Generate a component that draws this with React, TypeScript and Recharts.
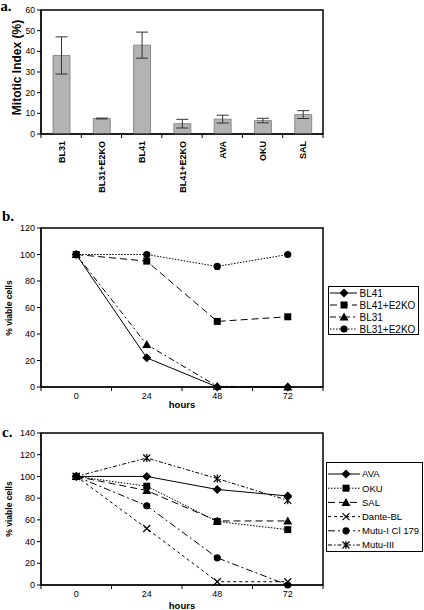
import React from 'react';
import {
  BarChart, Bar, ErrorBar, LineChart, Line, XAxis, YAxis, ReferenceArea, Legend,
} from 'recharts';

const FONT = '"Liberation Sans", Arial, sans-serif';
const SERIF = '"Liberation Serif", "Times New Roman", serif';

// panel a - mitotic index
const cellLines = ['BL31', 'BL31+E2KO', 'BL41', 'BL41+E2KO', 'AVA', 'OKU', 'SAL'];
const mitoticIndex = [38, 7.5, 43, 5, 7.2, 6.5, 9.4];
const mitoticErr = [9, 0.2, 6.3, 2.1, 1.9, 1.1, 1.9];
const mitoticTicks = [0, 10, 20, 30, 40, 50, 60];

// panel b / c - viability over time
const hours = [0, 24, 48, 72];
const hourTicks = [-12, 0, 12, 24, 36, 48, 60, 72, 84];

const bl41 = [100, 22, 0, 0];
const bl41E2ko = [100, 95, 49.5, 53];
const bl31 = [100, 32, 0.5, 0];
const bl31E2ko = [100, 100, 91, 100];
const ticksB = [0, 20, 40, 60, 80, 100, 120];

const ava = [100, 100, 88, 82];
const oku = [100, 91, 58.5, 51];
const sal = [100, 87, 59, 59];
const danteBl = [100, 52, 3, 3];
const mutuI = [100, 73, 25, 0];
const mutuIII = [100, 117, 98, 78];
const ticksC = [0, 20, 40, 60, 80, 100, 120, 140];

type MarkerKind = 'diamond' | 'square' | 'triangle' | 'circle' | 'cross' | 'star';

interface Series {
  key: string;
  name: string;
  values: number[];
  dash?: string;
  marker: MarkerKind;
}

const seriesB: Series[] = [
  { key: 'bl41', name: 'BL41', values: bl41, marker: 'diamond' },
  { key: 'bl41e2ko', name: 'BL41+E2KO', values: bl41E2ko, dash: '7 4', marker: 'square' },
  { key: 'bl31', name: 'BL31', values: bl31, dash: '6 3 2 3', marker: 'triangle' },
  { key: 'bl31e2ko', name: 'BL31+E2KO', values: bl31E2ko, dash: '1.5 1.5', marker: 'circle' },
];

const seriesC: Series[] = [
  { key: 'ava', name: 'AVA', values: ava, marker: 'diamond' },
  { key: 'oku', name: 'OKU', values: oku, dash: '1.5 1.5', marker: 'square' },
  { key: 'sal', name: 'SAL', values: sal, dash: '7 4', marker: 'triangle' },
  { key: 'dante', name: 'Dante-BL', values: danteBl, dash: '3 3', marker: 'cross' },
  { key: 'mutu1', name: 'Mutu-I Cl 179', values: mutuI, dash: '7 3 2 3', marker: 'circle' },
  { key: 'mutu3', name: 'Mutu-III', values: mutuIII, dash: '4 2 1.5 2', marker: 'star' },
];

function Marker({ kind, x, y }: { kind: MarkerKind; x: number; y: number }) {
  switch (kind) {
    case 'diamond':
      return <path d={`M${x},${y - 4.5}L${x + 4.5},${y}L${x},${y + 4.5}L${x - 4.5},${y}Z`} fill="#000" />;
    case 'square':
      return <rect x={x - 3.5} y={y - 3.5} width={7} height={7} fill="#000" />;
    case 'triangle':
      return <path d={`M${x},${y - 4.5}L${x + 4.5},${y + 3.5}L${x - 4.5},${y + 3.5}Z`} fill="#000" />;
    case 'circle':
      return <circle cx={x} cy={y} r={3.6} fill="#000" />;
    case 'cross':
      return (
        <path
          d={`M${x - 3.5},${y - 3.5}L${x + 3.5},${y + 3.5}M${x + 3.5},${y - 3.5}L${x - 3.5},${y + 3.5}`}
          stroke="#000" strokeWidth={1.2} fill="none"
        />
      );
    default:
      return (
        <path
          d={`M${x - 3.5},${y - 3.5}L${x + 3.5},${y + 3.5}M${x + 3.5},${y - 3.5}L${x - 3.5},${y + 3.5}M${x},${y - 4}L${x},${y + 4}`}
          stroke="#000" strokeWidth={1.2} fill="none"
        />
      );
  }
}

const dotFor = (kind: MarkerKind) => (p: any) => (
  <g key={`dot-${kind}-${p.index}`}>
    <Marker kind={kind} x={p.cx} y={p.cy} />
  </g>
);

const HourTick = (p: any) => {
  const v = p.payload.value;
  if (v % 24 !== 0) {
    return <line x1={p.x} x2={p.x} y1={p.y} y2={p.y + 4} stroke="#000" />;
  }
  return (
    <text x={p.x} y={p.y + 11.5} textAnchor="middle" fontSize={9} fontFamily={FONT} fill="#000">{v}</text>
  );
};

const BAND = (424 - 101 - 41) / cellLines.length;

const CellTick = (p: any) => (
  <g>
    <line x1={p.x + BAND / 2} x2={p.x + BAND / 2} y1={p.y} y2={p.y + 4} stroke="#000" />
    {p.index === 0 && <line x1={p.x - BAND / 2} x2={p.x - BAND / 2} y1={p.y} y2={p.y + 4} stroke="#000" />}
    <text
      transform={`translate(${p.x + 3.5},${p.y + 7}) rotate(-90)`}
      textAnchor="end" fontSize={9} fontWeight="bold" fontFamily={FONT} fill="#000"
    >
      {p.payload.value}
    </text>
  </g>
);

function LegendBox({ series, width, height, rowTop, rowH, sampleEnd, markerX, textX, fontSize }: any) {
  return (
    <svg width={width} height={height} style={{ display: 'block' }}>
      <rect x={0.5} y={0.5} width={width - 1} height={height - 1} fill="#fff" stroke="#000" />
      {series.map((s: Series, i: number) => {
        const cy = rowTop + i * rowH;
        return (
          <g key={s.key}>
            <line x1={2} x2={sampleEnd} y1={cy} y2={cy} stroke="#000" strokeDasharray={s.dash} />
            <Marker kind={s.marker} x={markerX} y={cy} />
            <text x={textX} y={cy + fontSize * 0.36} fontSize={fontSize} fontFamily={FONT} fill="#000">{s.name}</text>
          </g>
        );
      })}
    </svg>
  );
}

const tickStyle = (size: number) => ({ fontSize: size, fill: '#000', fontFamily: FONT });

function MitoticChart() {
  const data = cellLines.map((c, i) => ({ name: c, value: mitoticIndex[i], err: mitoticErr[i] }));
  return (
    <BarChart width={424} height={200} data={data} margin={{ top: 10, right: 101, bottom: 0, left: 0 }}>
      <XAxis
        dataKey="name" height={66} interval={0} tickSize={0} tickMargin={0} tickLine={false}
        axisLine={{ stroke: '#000' }} tick={CellTick}
      />
      <YAxis
        width={41} domain={[0, 60]} ticks={mitoticTicks} interval={0} tickSize={4} tickMargin={2}
        axisLine={{ stroke: '#000' }} tickLine={{ stroke: '#000' }} tick={tickStyle(8.5)}
        label={{
          content: () => (
            <text transform="translate(21,67.5) rotate(-90)" textAnchor="middle" fontSize={12}
              fontWeight="bold" fontFamily={FONT} fill="#000">Mitotic Index (%)</text>
          ),
        }}
      />
      <Bar dataKey="value" barSize={17} fill="#b3b3b3" stroke="#7a7a7a" strokeWidth={0.8} isAnimationActive={false}>
        <ErrorBar dataKey="err" width={6} stroke="#333" strokeWidth={1} direction="y" />
      </Bar>
      <ReferenceArea y1={0} y2={60} fill="none" stroke="#000" strokeWidth={1.5} />
    </BarChart>
  );
}

function ViabilityChart({ series, height, top, yMax, yTicks, titleX, titleY, hoursY, legend }: any) {
  const data = hours.map((h, i) => {
    const row: Record<string, number> = { hour: h };
    series.forEach((s: Series) => { row[s.key] = s.values[i]; });
    return row;
  });
  return (
    <LineChart width={424} height={height} data={data} margin={{ top, right: 101, bottom: 0, left: 0 }}>
      <XAxis
        dataKey="hour" type="number" domain={[-12, 84]} ticks={hourTicks} interval={0} height={height - top - (yMax === 120 ? 159 : 152)}
        tickSize={0} tickMargin={0} tickLine={false} axisLine={{ stroke: '#000' }} tick={HourTick}
        label={{
          content: () => (
            <text x={182} y={hoursY} textAnchor="middle" fontSize={9.5} fontWeight="bold"
              fontFamily={FONT} fill="#000">hours</text>
          ),
        }}
      />
      <YAxis
        width={41} domain={[0, yMax]} ticks={yTicks} interval={0} tickSize={4} tickMargin={2}
        axisLine={{ stroke: '#000' }} tickLine={{ stroke: '#000' }} tick={tickStyle(9)}
        label={{
          content: () => (
            <text transform={`translate(${titleX},${titleY}) rotate(-90)`} textAnchor="middle" fontSize={8.5}
              fontWeight="bold" fontFamily={FONT} fill="#000">% viable cells</text>
          ),
        }}
      />
      {series.map((s: Series) => (
        <Line
          key={s.key} dataKey={s.key} name={s.name} stroke="#000" strokeWidth={1}
          strokeDasharray={s.dash} dot={dotFor(s.marker)} activeDot={false} isAnimationActive={false}
        />
      ))}
      <ReferenceArea y1={0} y2={yMax} fill="none" stroke="#000" strokeWidth={1.5} />
      <Legend
        layout="horizontal" align="center" verticalAlign="middle"
        wrapperStyle={{ left: legend.left, top: legend.top, width: legend.width, height: legend.height }}
        content={() => <LegendBox series={series} {...legend} />}
      />
    </LineChart>
  );
}

export default function App() {
  return (
    <div style={{ position: 'absolute', left: 0, top: 0, width: 424, height: 610, background: '#fff', overflow: 'hidden' }}>
      <div style={{ position: 'absolute', left: 0, top: 0 }}>
        <MitoticChart />
      </div>
      <div style={{ position: 'absolute', left: 0, top: 200 }}>
        <ViabilityChart
          series={seriesB} height={212} top={28} yMax={120} yTicks={ticksB}
          titleX={12} titleY={108} hoursY={208}
          legend={{ left: 328, top: 85.5, width: 91, height: 49, rowTop: 7, rowH: 12, sampleEnd: 29, markerX: 16, textX: 31.5, fontSize: 10 }}
        />
      </div>
      <div style={{ position: 'absolute', left: 0, top: 412 }}>
        <ViabilityChart
          series={seriesC} height={198} top={21} yMax={140} yTicks={ticksC}
          titleX={11.5} titleY={97} hoursY={197}
          legend={{ left: 326, top: 50, width: 97, height: 90, rowTop: 12, rowH: 14.2, sampleEnd: 34, markerX: 20, textX: 36, fontSize: 9.5 }}
        />
      </div>
      <svg width={424} height={610} style={{ position: 'absolute', left: 0, top: 0, pointerEvents: 'none' }}>
        <text x={0.5} y={11} fontSize={14.5} fontWeight="bold" fontFamily={SERIF} fill="#000">a.</text>
        <text x={2} y={220.5} fontSize={15} fontWeight="bold" fontFamily={SERIF} fill="#000">b.</text>
        <text x={2} y={436.5} fontSize={15} fontWeight="bold" fontFamily={SERIF} fill="#000">c.</text>
      </svg>
    </div>
  );
}
